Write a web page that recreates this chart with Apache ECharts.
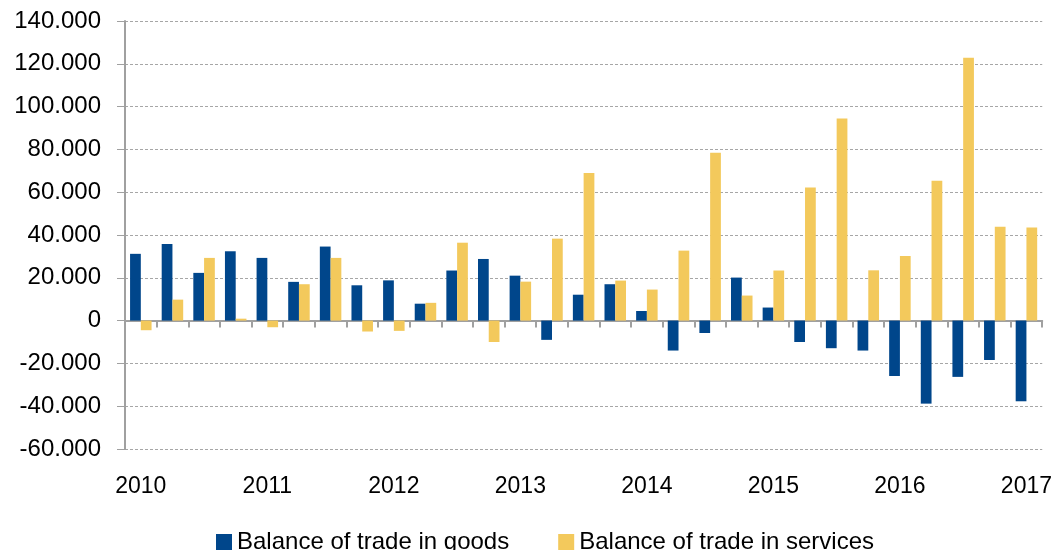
<!DOCTYPE html>
<html lang="en">
<head>
    <meta charset="UTF-8">
    <title>Balance of trade</title>
    <script src="https://cdn.jsdelivr.net/npm/echarts@6/dist/echarts.min.js"></script>
    <style>
        html, body { margin: 0; padding: 0; background: #fff; }
        #chart { width: 1055px; height: 550px; }
    </style>
</head>
<body>
<div id="chart"></div>
<script>
    // quarterly data, 2010 Q1 .. 2017 Q1
    var years = ['2010', '2011', '2012', '2013', '2014', '2015', '2016', '2017'];
    var quarters = ['Q1', 'Q2', 'Q3', 'Q4'];
    var goods = [31200, 35800, 22300, 32400, 29300, 18100, 34600, 16500, 18800, 7900, 23400, 28800, 21000, -9000, 12100, 17000,
        4500, -14000, -5800, 20100, 6100, -10000, -12900, -14000, -25900, -38800, -26300, -18400, -37700];
    var services = [-4500, 9800, 29300, 900, -3100, 17000, 29300, -5100, -4800, 8300, 36400, -10000, 18200, 38300, 69000, 18700,
        14500, 32700, 78400, 11700, 23400, 62200, 94400, 23500, 30200, 65300, 122800, 43900, 43500];

    var categories = [];
    years.forEach(function (y) {
        quarters.forEach(function (q) {
            if (categories.length < goods.length) categories.push(y + ' ' + q);
        });
    });

    var FONT = "'Liberation Sans', Arial, sans-serif";
    var chart = echarts.init(document.getElementById('chart'));
    chart.setOption({
        animation: false,
        textStyle: { fontFamily: FONT },
        grid: { left: 125, right: 12, top: 21, bottom: 101, containLabel: false },
        legend: {
            bottom: -9,
            left: 211,
            icon: 'rect',
            itemWidth: 16,
            itemHeight: 16,
            itemGap: 49,
            textStyle: { fontSize: 24, color: '#000', fontFamily: FONT },
            data: ['Balance of trade in goods', 'Balance of trade in services']
        },
        xAxis: [{
            type: 'category',
            data: categories,
            position: 'bottom',
            axisLine: { onZero: true, lineStyle: { color: '#a0a0a0', width: 2 } },
            axisTick: { show: true, length: 7, interval: 0, lineStyle: { color: '#a0a0a0', width: 2 } },
            axisLabel: { show: false }
        }, {
            type: 'category',
            data: categories,
            position: 'bottom',
            axisLine: { show: false, onZero: false },
            axisTick: { show: false },
            axisLabel: {
                interval: 0,
                margin: 26,
                fontSize: 23,
                color: '#000',
                fontFamily: FONT,
                formatter: function (v) {
                    return v.slice(-2) === 'Q1' ? v.slice(0, 4) : '';
                }
            }
        }],
        yAxis: {
            type: 'value',
            min: -60000,
            max: 140000,
            interval: 20000,
            axisLine: { show: true, lineStyle: { color: '#a0a0a0', width: 2 } },
            axisTick: { show: true, length: 8, lineStyle: { color: '#a0a0a0' } },
            splitLine: { lineStyle: { color: '#a6a6a6', type: [3, 2], width: 1 } },
            axisLabel: {
                margin: 24,
                fontSize: 24,
                color: '#000',
                fontFamily: FONT,
                formatter: function (v) {
                    return v === 0 ? '0' : (v / 1000) + '.000';
                }
            }
        },
        series: [{
            name: 'Balance of trade in goods',
            type: 'bar',
            data: goods,
            barGap: '0%',
            barCategoryGap: '32%',
            itemStyle: { color: '#00468b' }
        }, {
            name: 'Balance of trade in services',
            type: 'bar',
            data: services,
            barGap: '0%',
            barCategoryGap: '32%',
            itemStyle: { color: '#f3c95c' }
        }]
    });
</script>
</body>
</html>
